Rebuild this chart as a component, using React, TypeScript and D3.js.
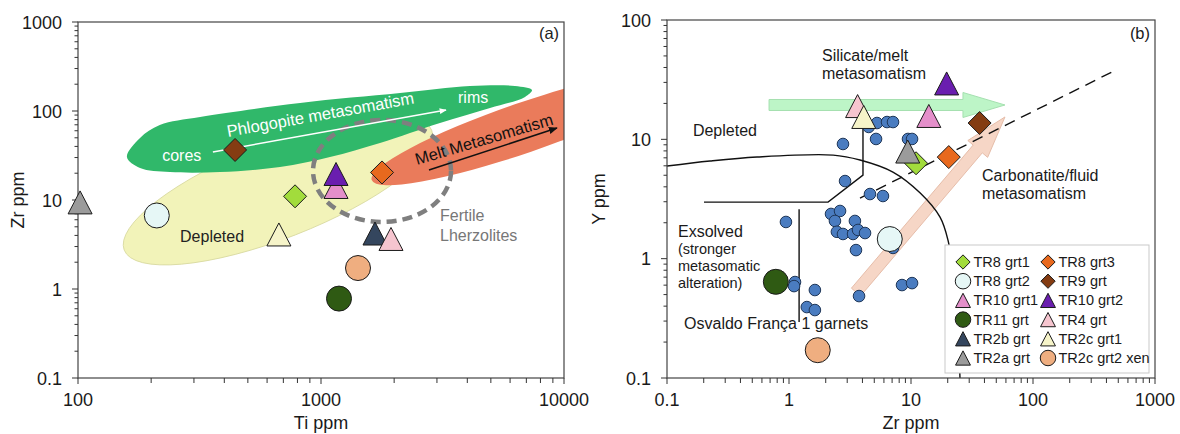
import React from "react";
import * as d3 from "d3";

// ---------------- DATA ----------------
const SAMPLE_NAMES = ["TR8 grt1", "TR8 grt2", "TR10 grt1", "TR11 grt", "TR2b grt", "TR2a grt",
  "TR8 grt3", "TR9 grt", "TR10 grt2", "TR4 grt", "TR2c grt1", "TR2c grt2 xen"];
const SAMPLE_SHAPES = ["diamond", "circle", "triangle", "circle", "triangle", "triangle",
  "diamond", "diamond", "triangle", "triangle", "triangle", "circle"];
const SAMPLE_COLORS = ["#a2dc3c", "#e6f7f6", "#e48fca", "#2f5a13", "#34465e", "#9b9b9b",
  "#e8691e", "#843c12", "#6a1eaf", "#f6c5cf", "#f6f4c9", "#efae80"];
const TI_PPM = [782, 211, 1153, 1186, 1668, 102, 1783, 443, 1153, 1941, 671, 1420];
const ZR_PPM = [11, 6.7, 14, 0.78, 4.2, 9.4, 20.4, 36.5, 19.6, 3.65, 4.1, 1.72];
const Y_PPM: (number | null)[] = [6.3, 1.46, 15.7, 0.64, null, 7.9, 7.1, 13.7, 29.4, 19.0, 15.4, 0.171];

// Osvaldo França 1 garnets (Zr, Y)
const OF1_ZR = [2.77, 5.17, 4.5, 5.26, 6.36, 7.12, 9.45, 10.2, 2.88, 4.61, 5.89, 2.21, 2.62, 2.38, 0.944,
  3.47, 2.47, 2.77, 3.35, 3.68, 4.2, 3.54, 7.12, 1.12, 1.1, 1.63, 3.75, 8.44, 10.2, 1.4, 1.63];
const OF1_Y = [9.14, 10.07, 12.7, 13.7, 13.96, 13.96, 10.07, 10.07, 4.47, 3.48, 3.35, 2.37, 2.51, 2.07, 2.03,
  2.07, 1.68, 1.61, 1.61, 1.74, 1.64, 1.18, 1.23, 0.637, 0.589, 0.546, 0.486, 0.601, 0.624, 0.393, 0.371];

// axis domains
const TI_DOMAIN = [100, 10000];
const ZR_DOMAIN_A = [0.1, 1000];
const ZR_DOMAIN_B = [0.1, 1000];
const Y_DOMAIN_B = [0.1, 100];

// field outlines, panel (a), in (Ti, Zr)
const PHLOG_FIELD: [number, number][] = [[159, 30.4], [180, 49.8], [217, 69.6], [318, 85.7], [820, 123],
  [2114, 159], [4104, 191], [6285, 191], [7383, 172], [6912, 144], [4960, 108], [3088, 73.3], [1749, 43.7],
  [1089, 30.4], [678, 23.5], [384, 20.6], [239, 20.6], [180, 22.9]];
const DEPLETED_CENTER: [number, number] = [665, 12.9];
const MELT_CENTER: [number, number] = [6780, 64.4];
const FERTILE_CENTER: [number, number] = [1783, 21.2];
const PHLOG_ARROW: [number, number][] = [[359, 34.6], [3268, 102.6]];
const MELT_ARROW: [number, number][] = [[2782, 21.7], [9355, 64.4]];

// panel (b) lines, in (Zr, Y)
const DEPLETED_CURVE_B: [number, number][] = [[0.1, 5.97], [0.225, 6.58], [0.547, 7.11], [2.3, 7.38], [3.82, 6.71],
  [7.11, 5.32], [11.9, 3.55], [17.3, 2.23], [20.1, 1.43], [22.5, 0.662], [24.3, 0.252], [25.2, 0.1]];
const EXSOLVED_LINE: [number, number][] = [[0.201, 2.98], [2.09, 2.98], [4.04, 5.02], [4.04, 13.2]];
const EXSOLVED_DIVIDER: [number, number][] = [[1.21, 2.6], [1.21, 0.294]];
const TREND_DASHED: [number, number][] = [[3.82, 3.22], [444, 36.7]];
const SILICATE_ARROW: [number, number][] = [[0.686, 19.4], [58.9, 19.4]];
const CARBONATITE_ARROW: [number, number][] = [[3.54, 0.525], [58.9, 15.4]];

const FONT = "'Liberation Sans', Arial, Helvetica, sans-serif";

// ---------------- LAYOUT ----------------
const W = 1180, H = 434;
const A = { l: 78, r: 564, t: 22, b: 378 };
const B = { l: 667, r: 1155, t: 20, b: 378 };

const xA = d3.scaleLog().domain(TI_DOMAIN).range([A.l, A.r]);
const yA = d3.scaleLog().domain(ZR_DOMAIN_A).range([A.b, A.t]);
const xB = d3.scaleLog().domain(ZR_DOMAIN_B).range([B.l, B.r]);
const yB = d3.scaleLog().domain(Y_DOMAIN_B).range([B.b, B.t]);

function logTicks(domain: number[]) {
  const out: { v: number; major: boolean }[] = [];
  const e0 = Math.round(Math.log10(domain[0]));
  const e1 = Math.round(Math.log10(domain[1]));
  for (let e = e0; e < e1; e++) for (let m = 1; m < 10; m++) out.push({ v: m * Math.pow(10, e), major: m === 1 });
  out.push({ v: domain[1], major: true });
  return out;
}
const fmt = (v: number) => (v >= 1 ? String(Math.round(v)) : String(+v.toFixed(3)));

function Symbol({ shape, color, x, y, s = 1, stroke = "#1b1b1b" }: any) {
  if (shape === "circle") return <circle cx={x} cy={y} r={12.5 * s} fill={color} stroke={stroke} strokeWidth={1} />;
  if (shape === "diamond") {
    const d = 11.5 * s;
    return <polygon points={`${x},${y - d} ${x + d},${y} ${x},${y + d} ${x - d},${y}`} fill={color} stroke={stroke} strokeWidth={1} />;
  }
  const w = 12 * s, h = 11.5 * s;
  return <polygon points={`${x},${y - h} ${x + w},${y + h} ${x - w},${y + h}`} fill={color} stroke={stroke} strokeWidth={1} />;
}

function Axes({ x, y, box, xLabel, yLabel, yLabelX }: any) {
  const xt = logTicks(x.domain());
  const yt = logTicks(y.domain());
  return (
    <g fontFamily={FONT} fill="#1a1a1a">
      <rect x={box.l} y={box.t} width={box.r - box.l} height={box.b - box.t} fill="none" stroke="#444" strokeWidth={1.2} />
      {xt.map((t, i) => (
        <line key={"xt" + i} x1={x(t.v)} x2={x(t.v)} y1={box.b} y2={box.b + (t.major ? 6 : 5)} stroke="#333" strokeWidth={1} />
      ))}
      {yt.map((t, i) => (
        <line key={"yt" + i} y1={y(t.v)} y2={y(t.v)} x1={box.l} x2={box.l - (t.major ? 6 : 3.5)} stroke="#333" strokeWidth={1} />
      ))}
      {xt.filter((t) => t.major).map((t, i) => (
        <text key={"xl" + i} x={x(t.v)} y={box.b + 28} textAnchor="middle" fontSize={18}>{fmt(t.v)}</text>
      ))}
      {yt.filter((t) => t.major).map((t, i) => (
        <text key={"yl" + i} x={box.l - 16} y={y(t.v) + 6.5} textAnchor="end" fontSize={18}>{fmt(t.v)}</text>
      ))}
      <text x={(box.l + box.r) / 2} y={429} textAnchor="middle" fontSize={18}>{xLabel}</text>
      <text transform={`translate(${yLabelX},${(box.t + box.b) / 2}) rotate(-90)`} textAnchor="middle" fontSize={18} dy={6}>{yLabel}</text>
    </g>
  );
}

function fatArrow(p0: number[], p1: number[], bw: number, hl: number, hw: number) {
  const dx = p1[0] - p0[0], dy = p1[1] - p0[1];
  const L = Math.hypot(dx, dy);
  const ux = dx / L, uy = dy / L, nx = -uy, ny = ux;
  const bx = p1[0] - ux * hl, by = p1[1] - uy * hl;
  const pts = [
    [p0[0] + nx * bw, p0[1] + ny * bw],
    [bx + nx * bw, by + ny * bw],
    [bx + nx * hw, by + ny * hw],
    [p1[0], p1[1]],
    [bx - nx * hw, by - ny * hw],
    [bx - nx * bw, by - ny * bw],
    [p0[0] - nx * bw, p0[1] - ny * bw],
  ];
  return pts.map((p) => p.join(",")).join(" ");
}

export default function App() {
  const phlogPath = d3.line<[number, number]>().x((d) => xA(d[0])).y((d) => yA(d[1])).curve(d3.curveCatmullRomClosed.alpha(0.5))(PHLOG_FIELD) || "";
  const lineB = d3.line<[number, number]>().x((d) => xB(d[0])).y((d) => yB(d[1]));
  const curveB = d3.line<[number, number]>().x((d) => xB(d[0])).y((d) => yB(d[1])).curve(d3.curveCatmullRom.alpha(0.5));
  const pA = (d: [number, number]) => [xA(d[0]), yA(d[1])];
  const pB = (d: [number, number]) => [xB(d[0]), yB(d[1])];

  const legendRows = 6;
  const lx = 945, ly = 245;

  return (
    <div style={{ position: "absolute", left: 0, top: 0 }}>
      <svg width={W} height={H} viewBox={`0 0 ${W} ${H}`} style={{ display: "block", background: "#fff" }}>
        <defs>
          <clipPath id="clipA"><rect x={A.l} y={A.t} width={A.r - A.l} height={A.b - A.t} /></clipPath>
          <clipPath id="clipB"><rect x={B.l} y={B.t} width={B.r - B.l} height={B.b - B.t} /></clipPath>
          <marker id="arrW" viewBox="0 0 10 10" refX="9" refY="5" markerWidth="7" markerHeight="7" orient="auto" markerUnits="userSpaceOnUse">
            <path d="M0,1 L10,5 L0,9 z" fill="#fff" />
          </marker>
          <marker id="arrK" viewBox="0 0 10 10" refX="9" refY="5" markerWidth="9" markerHeight="9" orient="auto" markerUnits="userSpaceOnUse">
            <path d="M0,1 L10,5 L0,9 z" fill="#111" />
          </marker>
        </defs>

        {/* ---------- Panel (a) ---------- */}
        <g clipPath="url(#clipA)">
          {(() => { const c = pA(DEPLETED_CENTER); return (
            <ellipse cx={0} cy={0} rx={165} ry={48} transform={`translate(${c[0]},${c[1]}) rotate(-21.3)`} fill="#f2f3b9" stroke="#d8d9a0" strokeWidth={0.8} />
          ); })()}
          <path d={phlogPath} fill="#30b86a" />
          {(() => { const c = pA(MELT_CENTER); return (
            <ellipse cx={0} cy={0} rx={160} ry={25} transform={`translate(${c[0]},${c[1]}) rotate(-19)`} fill="#ea7b5b" />
          ); })()}
          {(() => { const c = pA(FERTILE_CENTER); return (
            <ellipse cx={c[0]} cy={c[1]} rx={69} ry={51} fill="none" stroke="#7f7f7f" strokeWidth={4.5} strokeDasharray="10 6" />
          ); })()}
          {(() => { const a = pA(PHLOG_ARROW[0]), b = pA(PHLOG_ARROW[1]); return (
            <line x1={a[0]} y1={a[1]} x2={b[0]} y2={b[1]} stroke="#fff" strokeWidth={1.5} markerEnd="url(#arrW)" />
          ); })()}
          {(() => { const a = pA(MELT_ARROW[0]), b = pA(MELT_ARROW[1]); return (
            <line x1={a[0]} y1={a[1]} x2={b[0]} y2={b[1]} stroke="#111" strokeWidth={1.5} markerEnd="url(#arrK)" />
          ); })()}
        </g>
        <g fontFamily={FONT} fontSize={16}>
          <text x={xA(222)} y={yA(27.4)} fill="#fff">cores</text>
          <text x={xA(3664)} y={yA(123)} fill="#fff">rims</text>
          <text transform={`translate(${xA(414)},${yA(51)}) rotate(-10.2)`} fill="#fff" fontSize={16.5}>Phlogopite metasomatism</text>
          <text transform={`translate(${xA(2484)},${yA(24.7)}) rotate(-16.5)`} fill="#111" fontSize={16.5}>Melt Metasomatism</text>
          <text x={xA(263)} y={yA(3.37)} fill="#222">Depleted</text>
          <text x={xA(3088)} y={yA(5.81)} fill="#777">Fertile</text>
          <text x={xA(3088)} y={yA(3.46)} fill="#777">Lherzolites</text>
          <text x={xA(8676)} y={yA(644)} fill="#222" textAnchor="middle" fontSize={16.5}>(a)</text>
        </g>
        <Axes x={xA} y={yA} box={A} xLabel="Ti ppm" yLabel="Zr ppm" yLabelX={18} />
        {SAMPLE_NAMES.map((n, i) => (
          <Symbol key={"a" + n} shape={SAMPLE_SHAPES[i]} color={SAMPLE_COLORS[i]} x={xA(TI_PPM[i])} y={yA(ZR_PPM[i])} />
        ))}

        {/* ---------- Panel (b) ---------- */}
        <g clipPath="url(#clipB)">
          {(() => { const a = pB(SILICATE_ARROW[0]), b = pB(SILICATE_ARROW[1]); return (
            <polygon points={fatArrow(a, b, 5.5, 42, 12.5)} fill="#bdf5c7" stroke="#a5e0b0" strokeWidth={1} />
          ); })()}
          {(() => { const a = pB(CARBONATITE_ARROW[0]), b = pB(CARBONATITE_ARROW[1]); return (
            <polygon points={fatArrow(a, b, 6, 42, 13)} fill="#f6d6c6" stroke="#e6bda9" strokeWidth={1} />
          ); })()}
          <path d={curveB(DEPLETED_CURVE_B) || ""} fill="none" stroke="#111" strokeWidth={1.4} />
          <path d={lineB(EXSOLVED_LINE) || ""} fill="none" stroke="#111" strokeWidth={1.4} />
          <path d={lineB(EXSOLVED_DIVIDER) || ""} fill="none" stroke="#111" strokeWidth={1.4} />
          <path d={lineB(TREND_DASHED) || ""} fill="none" stroke="#111" strokeWidth={1.4} strokeDasharray="11 7" />
        </g>
        <g fontFamily={FONT} fontSize={16} fill="#1a1a1a">
          <text x={xB(1.864)} y={yB(45.3)}>Silicate/melt</text>
          <text x={xB(1.864)} y={yB(32.0)}>metasomatism</text>
          <text x={xB(0.163)} y={yB(10.7)}>Depleted</text>
          <text x={xB(38.2)} y={yB(4.47)}>Carbonatite/fluid</text>
          <text x={xB(38.2)} y={yB(3.16)}>metasomatism</text>
          <text x={xB(0.123)} y={yB(1.52)}>Exsolved</text>
          <text x={xB(0.123)} y={yB(1.093)} fontSize={14.5}>(stronger</text>
          <text x={xB(0.123)} y={yB(0.787)} fontSize={14.5}>metasomatic</text>
          <text x={xB(0.123)} y={yB(0.567)} fontSize={14.5}>alteration)</text>
          <text x={xB(0.138)} y={yB(0.257)}>Osvaldo França 1 garnets</text>
          <text x={xB(753)} y={yB(69.3)} textAnchor="middle" fontSize={16.5}>(b)</text>
        </g>
        <Axes x={xB} y={yB} box={B} xLabel="Zr ppm" yLabel="Y ppm" yLabelX={599} />
        {OF1_ZR.map((z, i) => (
          <circle key={"of" + i} cx={xB(z)} cy={yB(OF1_Y[i])} r={5.8} fill="#4a7cc0" stroke="#1e3658" strokeWidth={1} />
        ))}
        {SAMPLE_NAMES.map((n, i) => Y_PPM[i] == null ? null : (
          <Symbol key={"b" + n} shape={SAMPLE_SHAPES[i]} color={SAMPLE_COLORS[i]} x={xB(ZR_PPM[i])} y={yB(Y_PPM[i] as number)} />
        ))}

        {/* legend */}
        <rect x={lx} y={ly} width={204} height={128} fill="#fff" stroke="#c9c9c9" strokeWidth={1} />
        {SAMPLE_NAMES.map((n, i) => {
          const col = Math.floor(i / legendRows), row = i % legendRows;
          const sx = lx + 18 + col * 85, sy = ly + 17 + row * 19.2;
          return (
            <g key={"lg" + n}>
              <Symbol shape={SAMPLE_SHAPES[i]} color={SAMPLE_COLORS[i]} x={sx} y={sy} s={0.62} />
              <text x={sx + 10.5} y={sy + 5} fontFamily={FONT} fontSize={14.5} fill="#1a1a1a">{n}</text>
            </g>
          );
        })}
      </svg>
    </div>
  );
}
